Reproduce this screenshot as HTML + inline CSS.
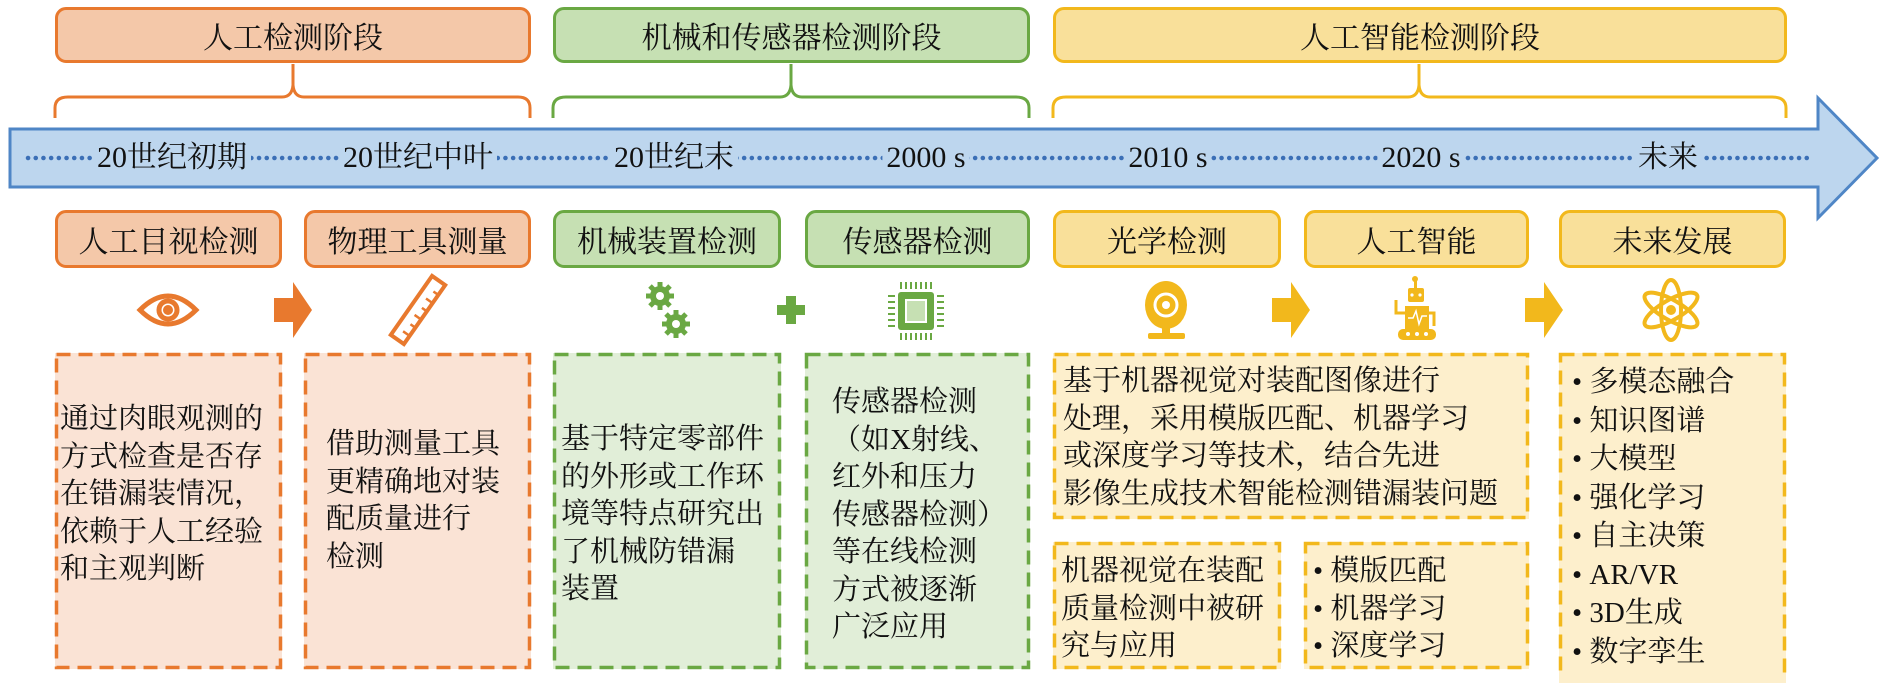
<!DOCTYPE html>
<html><head><meta charset="utf-8"><style>
body{margin:0;width:1890px;height:675px;position:relative;background:#fff;overflow:hidden;font-family:"Liberation Serif","Noto Serif CJK SC",serif;color:#111}
.b{position:absolute;box-sizing:border-box;border-radius:11px;border:3px solid;display:flex;align-items:center;justify-content:center;font-size:30px}
.o{border-color:#E8792E;background:#F4C8A9}
.g{border-color:#6AA843;background:#C6E0B3}
.y{border-color:#F2B81C;background:#F9E09A}
.d{position:absolute;box-sizing:border-box;border:3px solid transparent;font-size:29px;line-height:37.5px}
.do{background:#FAE3D5}
.dg{background:#E1EED8}
.dy{background:#FDEFCC}
.yr{position:absolute;top:139px;font-size:30px;background:#BDD6EE;padding:0 4px;transform:translateX(-50%);line-height:38px}
</style></head><body>
<svg width="1890" height="675" style="position:absolute;left:0;top:0">
<g fill="none" stroke-width="3">
<path d="M55 118 V108 Q55 97 68 97 H282 Q292 97 293 85 V64 M293 64 V85 Q294 97 304 97 H518 Q530 97 530 108 V118" stroke="#E8792E"/>
<path d="M553 118 V108 Q553 97 566 97 H780 Q790 97 791 85 V64 M791 64 V85 Q792 97 802 97 H1016 Q1029 97 1029 108 V118" stroke="#6AA843"/>
<path d="M1053 118 V108 Q1053 97 1066 97 H1408 Q1418 97 1419 85 V64 M1419 64 V85 Q1420 97 1430 97 H1772 Q1786 97 1786 108 V118" stroke="#F2B81C"/>
</g>
<path d="M10 129 H1818 V98 L1877 158 L1818 218 V187 H10 Z" fill="#BDD6EE" stroke="#4F86C6" stroke-width="3"/>
<line x1="28" y1="158" x2="1812" y2="158" stroke="#3B6FB6" stroke-width="4.5" stroke-dasharray="0.1 7.6" stroke-linecap="round"/>
<g fill="none" stroke="#E8792E" stroke-width="5">
<path d="M140 310 Q168 282 196 310 Q168 338 140 310 Z"/><circle cx="168" cy="310" r="9"/>
</g>
<circle cx="168" cy="310" r="5" fill="#E8792E"/>
<path d="M274 298 H293 V282 L312 310 L293 338 V322 H274 Z" fill="#E8792E"/>
<path d="M1272 298 H1291 V282 L1310 310 L1291 338 V322 H1272 Z" fill="#F2B81C"/>
<path d="M1525 298 H1544 V282 L1563 310 L1544 338 V322 H1525 Z" fill="#F2B81C"/>
<g transform="translate(418,310) rotate(-55)">
<rect x="-36" y="-8" width="72" height="16" fill="none" stroke="#E8792E" stroke-width="4"/>
<path d="M-26 8 V0 M-16 8 V2 M-6 8 V0 M4 8 V2 M14 8 V0 M24 8 V2" stroke="#E8792E" stroke-width="2.5"/>
</g>
<g fill="#6AA843">
<circle cx="660" cy="296" r="10"/><circle cx="676" cy="324" r="10"/>
<g stroke="#6AA843" stroke-width="5"><path d="M660 282 V310 M646 296 H674 M650 286 L670 306 M670 286 L650 306"/><path d="M676 310 V338 M662 324 H690 M666 314 L686 334 M686 314 L666 334"/></g>
<circle cx="660" cy="296" r="4" fill="#fff"/><circle cx="676" cy="324" r="4" fill="#fff"/>
</g>
<path d="M786 296 H796 V305 H805 V315 H796 V324 H786 V315 H777 V305 H786 Z" fill="#6AA843"/>
<g>
<rect x="898" y="292" width="36" height="38" rx="3" fill="#6AA843"/>
<rect x="906" y="300" width="20" height="22" fill="#C6E0B3" stroke="#fff" stroke-width="2"/>
<path d="M901 282 V289 M906 282 V289 M911 282 V289 M916 282 V289 M921 282 V289 M926 282 V289 M931 282 V289 M901 333 V340 M906 333 V340 M911 333 V340 M916 333 V340 M921 333 V340 M926 333 V340 M931 333 V340 M888 296 H895 M888 302 H895 M888 308 H895 M888 314 H895 M888 320 H895 M888 326 H895 M937 296 H944 M937 302 H944 M937 308 H944 M937 314 H944 M937 320 H944 M937 326 H944" stroke="#6AA843" stroke-width="2"/>
</g>
<g fill="#F2B81C">
<ellipse cx="1166" cy="305" rx="21" ry="24"/>
<rect x="1162" y="326" width="8" height="8"/><rect x="1148" y="333" width="37" height="6" rx="2"/>
<circle cx="1166" cy="305" r="11" fill="none" stroke="#fff" stroke-width="3"/>
<circle cx="1166" cy="305" r="4" fill="#fff"/>
</g>
<g fill="#F2B81C">
<rect x="1408" y="288" width="16" height="14" rx="2"/><rect x="1414" y="280" width="3" height="8"/><circle cx="1415" cy="279" r="3"/>
<rect x="1405" y="306" width="24" height="24"/>
<rect x="1398" y="329" width="38" height="11" rx="5"/>
<path d="M1405 313 H1396 V300" fill="none" stroke="#F2B81C" stroke-width="3"/>
<path d="M1429 313 H1434 V326" fill="none" stroke="#F2B81C" stroke-width="3"/>
<circle cx="1412" cy="295" r="1.6" fill="#fff"/><circle cx="1420" cy="295" r="1.6" fill="#fff"/>
<circle cx="1408" cy="334" r="2" fill="#fff"/><circle cx="1417" cy="334" r="2" fill="#fff"/><circle cx="1426" cy="334" r="2" fill="#fff"/>
<path d="M1408 318 H1413 L1416 311 L1419 324 L1422 316 H1427" fill="none" stroke="#fff" stroke-width="1.5"/>
</g>
<g fill="none" stroke="#F2B81C" stroke-width="4">
<ellipse cx="1671" cy="310" rx="10" ry="30"/>
<ellipse cx="1671" cy="310" rx="10" ry="30" transform="rotate(60 1671 310)"/>
<ellipse cx="1671" cy="310" rx="10" ry="30" transform="rotate(-60 1671 310)"/>
</g>
<circle cx="1671" cy="310" r="5" fill="#F2B81C"/>
</svg>

<div class="b o" style="left:55px;top:7px;width:476px;height:56px">人工检测阶段</div>
<div class="b g" style="left:553px;top:7px;width:477px;height:56px">机械和传感器检测阶段</div>
<div class="b y" style="left:1053px;top:7px;width:734px;height:56px">人工智能检测阶段</div>

<div class="yr" style="left:172px">20世纪初期</div>
<div class="yr" style="left:418px">20世纪中叶</div>
<div class="yr" style="left:674px">20世纪末</div>
<div class="yr" style="left:926px">2000 s</div>
<div class="yr" style="left:1168px">2010 s</div>
<div class="yr" style="left:1421px">2020 s</div>
<div class="yr" style="left:1668px">未来</div>

<div class="b o" style="left:55px;top:210px;width:227px;height:58px">人工目视检测</div>
<div class="b o" style="left:304px;top:210px;width:227px;height:58px">物理工具测量</div>
<div class="b g" style="left:553px;top:210px;width:228px;height:58px">机械装置检测</div>
<div class="b g" style="left:805px;top:210px;width:225px;height:58px">传感器检测</div>
<div class="b y" style="left:1053px;top:210px;width:228px;height:58px">光学检测</div>
<div class="b y" style="left:1304px;top:210px;width:225px;height:58px">人工智能</div>
<div class="b y" style="left:1559px;top:210px;width:227px;height:58px">未来发展</div>

<div class="d do" style="left:55px;top:353px;width:227px;height:316px;padding:45px 0 0 2px">通过肉眼观测的<br>方式检查是否存<br>在错漏装情况，<br>依赖于人工经验<br>和主观判断</div>
<div class="d do" style="left:304px;top:353px;width:227px;height:316px;padding:70px 0 0 19px">借助测量工具<br>更精确地对装<br>配质量进行<br>检测</div>
<div class="d dg" style="left:553px;top:353px;width:228px;height:316px;padding:65px 0 0 5px">基于特定零部件<br>的外形或工作环<br>境等特点研究出<br>了机械防错漏<br>装置</div>
<div class="d dg" style="left:805px;top:353px;width:225px;height:316px;padding:28px 0 0 24px">传感器检测<br>（如X射线、<br>红外和压力<br>传感器检测）<br>等在线检测<br>方式被逐渐<br>广泛应用</div>
<div class="d dy" style="left:1053px;top:353px;width:476px;height:166px;padding:7px 0 0 7px">基于机器视觉对装配图像进行<br>处理，采用模版匹配、机器学习<br>或深度学习等技术，结合先进<br>影像生成技术智能检测错漏装问题</div>
<div class="d dy" style="left:1053px;top:542px;width:228px;height:127px;padding:8px 0 0 5px">机器视觉在装配<br>质量检测中被研<br>究与应用</div>
<div class="d dy" style="left:1304px;top:542px;width:225px;height:127px;padding:8px 0 0 6px">• 模版匹配<br>• 机器学习<br>• 深度学习</div>
<div class="d dy" style="left:1559px;top:353px;width:227px;height:330px;padding:7px 0 0 10px;line-height:38.5px">• 多模态融合<br>• 知识图谱<br>• 大模型<br>• 强化学习<br>• 自主决策<br>• AR/VR<br>• 3D生成<br>• 数字孪生</div>

<svg width="1890" height="675" style="position:absolute;left:0;top:0;pointer-events:none">
<g fill="none" stroke-width="3.5" stroke-dasharray="14 8">
<rect x="56.5" y="354.5" width="224" height="313" stroke="#E8792E"/>
<rect x="305.5" y="354.5" width="224" height="313" stroke="#E8792E"/>
<rect x="554.5" y="354.5" width="225" height="313" stroke="#6AA843"/>
<rect x="806.5" y="354.5" width="222" height="313" stroke="#6AA843"/>
<rect x="1054.5" y="354.5" width="473" height="163" stroke="#F2B81C"/>
<rect x="1054.5" y="543.5" width="225" height="124" stroke="#F2B81C"/>
<rect x="1305.5" y="543.5" width="222" height="124" stroke="#F2B81C"/>
<rect x="1560.5" y="354.5" width="224" height="330" stroke="#F2B81C"/>
</g>
</svg>
</body></html>
